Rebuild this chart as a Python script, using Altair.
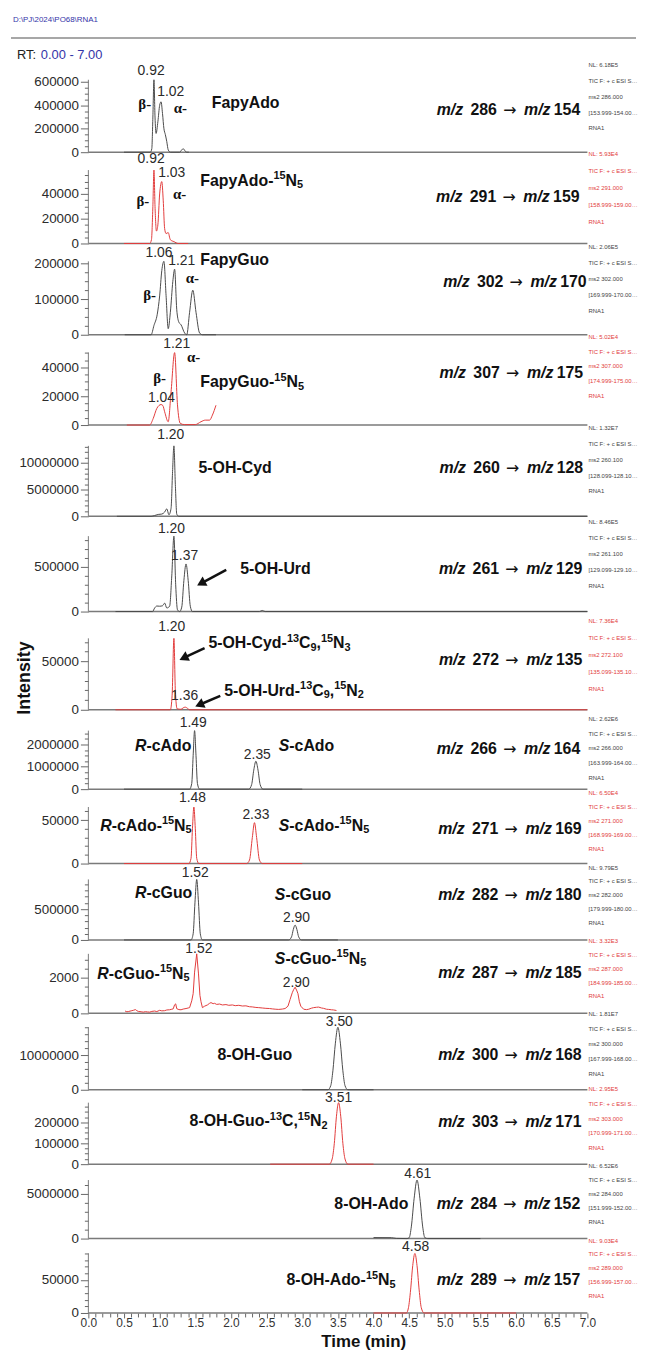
import math
import altair as alt
import pandas as pd

FONT = "Liberation Sans"
SERIF = "Liberation Serif"

# ---------------- data: per-panel metadata ----------------
NL = [618000, 59300, 206000, 50200, 13200000, 846000, 73600,
      2620000, 65000, 979000, 3320, 18100000, 295000, 6520000, 90300]
NL_LABELS = ["6.18E5", "5.93E4", "2.06E5", "5.02E4", "1.32E7", "8.46E5", "7.36E4",
             "2.62E6", "6.50E4", "9.79E5", "3.32E3", "1.81E7", "2.95E5", "6.52E6", "9.03E4"]
IS_RED = [False, True, False, True, False, False, True,
          False, True, False, True, False, True, False, True]
PRECURSOR = ["286", "291", "302", "307", "260", "261", "272", "266",
             "271", "282", "287", "300", "303", "284", "289"]
PRODUCT = ["154", "159", "170", "175", "128", "129", "135", "164",
           "169", "180", "185", "168", "171", "152", "157"]
MS2 = ["286.000", "291.000", "302.000", "307.000", "260.100", "261.100", "272.100", "266.000",
       "271.000", "282.000", "287.000", "300.000", "303.000", "284.000", "289.000"]
WINDOW = ["153.999-154.001", "158.999-159.001", "169.999-170.001", "174.999-175.001",
          "128.099-128.101", "129.099-129.101", "135.099-135.101", "163.999-164.001",
          "168.999-169.001", "179.999-180.001", "184.999-185.001", "167.999-168.001",
          "170.999-171.001", "151.999-152.001", "156.999-157.001"]
Y_MAJOR = [200000, 20000, 100000, 20000, 5000000, 500000, 50000, 1000000,
           50000, 500000, 2000, 10000000, 100000, 5000000, 50000]
Y_MINOR = [50000, 5000, 25000, 5000, 1000000, 100000, 10000, 250000,
           10000, 100000, 500, 2000000, 25000, 1000000, 10000]

# ---------------- data: chromatogram traces (time min, intensity) ----------------
TRACE_FAPYADO = [(0.50, 0), (0.87, 0), (0.89, 30000), (0.905, 300000), (0.92, 618000), (0.935, 300000),
                 (0.95, 160000), (0.975, 260000), (1.00, 400000), (1.02, 430000), (1.04, 330000),
                 (1.06, 200000), (1.08, 150000), (1.10, 90000), (1.12, 20000), (1.15, 0), (1.28, 0),
                 (1.31, 20000), (1.33, 30000), (1.36, 8000), (1.38, 0), (1.41, 0)]
TRACE_FAPYADO_IS = [(0.50, 0), (0.86, 0), (0.885, 3000), (0.905, 30000), (0.92, 59300), (0.935, 30000),
                    (0.955, 10000), (0.975, 15000), (1.00, 40000), (1.03, 50000), (1.05, 35000),
                    (1.07, 12000), (1.09, 8000), (1.12, 8800), (1.15, 3000), (1.20, 1500), (1.26, 0),
                    (1.40, 0)]
TRACE_FAPYGUO = [(0.51, 0), (0.88, 0), (0.92, 26000), (0.965, 56000), (1.00, 109000), (1.03, 180000),
                 (1.06, 206000), (1.09, 110000), (1.12, 17000), (1.15, 63000), (1.185, 150000),
                 (1.21, 184000), (1.24, 70000), (1.27, 35000), (1.30, 28000), (1.35, 5000), (1.38, 0),
                 (1.42, 63000), (1.465, 125000), (1.51, 63000), (1.56, 5000), (1.60, 0), (1.79, 0)]
TRACE_FAPYGUO_IS = [(0.54, 0), (0.86, 0), (0.91, 4600), (0.96, 11500), (1.02, 14200), (1.045, 13500),
                    (1.07, 9200), (1.12, 2300), (1.16, 23000), (1.21, 50200), (1.25, 14000),
                    (1.29, 1100), (1.35, 300), (1.50, 300), (1.58, 2300), (1.64, 3400), (1.70, 3400),
                    (1.74, 6900), (1.79, 13700)]
TRACE_5OHCYD = [(0.40, 0), (0.88, 0), (0.93, 150000), (0.98, 350000), (1.03, 420000), (1.07, 800000),
                (1.10, 1400000), (1.13, 300000), (1.16, 1500000), (1.18, 8000000), (1.20, 13200000),
                (1.22, 6000000), (1.24, 400000), (1.27, 0), (7.00, 0)]
TRACE_5OHURD = [(0.38, 0), (0.90, 0), (0.93, 40000), (0.96, 62000), (1.00, 60000), (1.04, 65000),
                (1.07, 95000), (1.10, 40000), (1.14, 60000), (1.17, 400000), (1.20, 846000),
                (1.225, 300000), (1.25, 20000), (1.28, 0), (1.31, 50000), (1.34, 350000),
                (1.37, 534000), (1.40, 350000), (1.43, 60000), (1.46, 0), (2.40, 0), (2.44, 12000),
                (2.48, 0), (7.00, 0)]
TRACE_5OHCYD_IS = [(0.38, 0), (1.15, 0), (1.175, 15000), (1.20, 73600), (1.22, 20000), (1.245, 1000),
                   (1.30, 500), (1.33, 2000), (1.36, 2700), (1.39, 1500), (1.42, 0), (7.00, 0)]
TRACE_CADO = [(0.50, 0), (1.42, 0), (1.45, 250000), (1.47, 1500000), (1.49, 2620000), (1.51, 1500000),
              (1.53, 250000), (1.56, 0), (2.25, 0), (2.29, 200000), (2.32, 850000), (2.35, 1250000),
              (2.38, 850000), (2.41, 200000), (2.45, 0), (3.00, 0)]
TRACE_CADO_IS = [(0.50, 0), (1.41, 0), (1.44, 6000), (1.46, 40000), (1.48, 65000), (1.50, 40000),
                 (1.52, 6000), (1.55, 0), (2.22, 0), (2.26, 4000), (2.30, 30000), (2.33, 47000),
                 (2.36, 30000), (2.40, 4000), (2.44, 0), (3.00, 0)]
TRACE_CGUO = [(0.50, 0), (1.44, 0), (1.47, 100000), (1.495, 600000), (1.52, 979000), (1.545, 600000),
              (1.57, 100000), (1.60, 0), (2.81, 0), (2.85, 50000), (2.875, 170000), (2.90, 240000),
              (2.925, 170000), (2.95, 50000), (2.99, 0), (3.50, 0)]
TRACE_CGUO_IS = [(0.515, 130), (0.54, 90), (0.56, 100), (0.60, 140), (0.63, 170), (0.66, 210),
                 (0.68, 150), (0.70, 110), (0.74, 90), (0.77, 70), (0.80, 95), (0.83, 80), (0.86, 70),
                 (0.89, 110), (0.93, 130), (0.96, 100), (1.00, 170), (1.03, 140), (1.07, 150),
                 (1.10, 190), (1.14, 200), (1.17, 230), (1.19, 250), (1.21, 480), (1.225, 530),
                 (1.24, 260), (1.27, 210), (1.30, 200), (1.33, 240), (1.37, 270), (1.40, 300),
                 (1.42, 320), (1.45, 700), (1.47, 1100), (1.49, 2300), (1.52, 3320), (1.545, 2200),
                 (1.565, 1000), (1.58, 650), (1.60, 320), (1.63, 400), (1.67, 470), (1.70, 560),
                 (1.72, 600), (1.75, 540), (1.77, 560), (1.80, 500), (1.84, 520), (1.88, 470),
                 (1.93, 490), (1.97, 450), (2.02, 470), (2.06, 430), (2.11, 450), (2.16, 410),
                 (2.21, 420), (2.26, 370), (2.30, 360), (2.35, 330), (2.39, 320), (2.44, 300),
                 (2.49, 280), (2.54, 270), (2.58, 250), (2.63, 230), (2.67, 220), (2.72, 240),
                 (2.76, 270), (2.80, 400), (2.83, 780), (2.86, 1150), (2.88, 1330), (2.90, 1460),
                 (2.92, 1300), (2.94, 1100), (2.96, 650), (2.98, 400), (3.02, 230), (3.06, 210),
                 (3.09, 230), (3.13, 290), (3.16, 320), (3.20, 340), (3.23, 350), (3.27, 300),
                 (3.30, 280), (3.34, 230), (3.37, 220), (3.41, 200), (3.44, 190), (3.48, 160)]
TRACE_8OHGUO = [(3.00, 0), (3.36, 0), (3.40, 1200000), (3.43, 5500000), (3.465, 13500000),
                (3.50, 18100000), (3.535, 13500000), (3.57, 5500000), (3.60, 1200000), (3.64, 0),
                (4.00, 0)]
TRACE_8OHGUO_IS = [(2.55, 0), (3.38, 0), (3.42, 25000), (3.45, 100000), (3.48, 230000), (3.51, 295000),
                   (3.54, 230000), (3.57, 100000), (3.60, 25000), (3.64, 0), (4.00, 0)]
TRACE_8OHADO = [(4.00, 110000), (4.25, 100000), (4.32, 20000), (4.47, 0), (4.50, 100000),
                (4.53, 1300000), (4.57, 4500000), (4.61, 6520000), (4.65, 4500000), (4.69, 1300000),
                (4.72, 100000), (4.76, 0), (5.50, 0)]
TRACE_8OHADO_IS = [(4.00, 0), (4.46, 0), (4.49, 8000), (4.52, 35000), (4.55, 72000), (4.58, 90300),
                   (4.61, 72000), (4.64, 35000), (4.67, 8000), (4.71, 0), (6.00, 0)]
TRACES = [TRACE_FAPYADO, TRACE_FAPYADO_IS, TRACE_FAPYGUO, TRACE_FAPYGUO_IS, TRACE_5OHCYD,
          TRACE_5OHURD, TRACE_5OHCYD_IS, TRACE_CADO, TRACE_CADO_IS, TRACE_CGUO, TRACE_CGUO_IS,
          TRACE_8OHGUO, TRACE_8OHGUO_IS, TRACE_8OHADO, TRACE_8OHADO_IS]

# ---------------- data: annotations (panel, time, intensity, text) ----------------
PEAK_LABELS = [(1, 0.88, 694000, "0.92"), (1, 1.155, 516000, "1.02"),
               (2, 0.88, 68100, "0.92"), (2, 1.17, 56900, "1.03"),
               (3, 0.99, 228000, "1.06"), (3, 1.31, 206000, "1.21"),
               (4, 1.24, 56400, "1.21"), (4, 1.025, 18600, "1.04"),
               (5, 1.155, 15200000, "1.20"),
               (6, 1.165, 924000, "1.20"), (6, 1.35, 623000, "1.37"),
               (7, 1.17, 84800, "1.20"), (7, 1.35, 14300, "1.36"),
               (8, 1.47, 2980000, "1.49"), (8, 2.37, 1510000, "2.35"),
               (9, 1.46, 75200, "1.48"), (9, 2.35, 55900, "2.33"),
               (10, 1.50, 1075000, "1.52"), (10, 2.92, 353000, "2.90"),
               (11, 1.55, 3595, "1.52"), (11, 2.915, 1714, "2.90"),
               (12, 3.52, 19500000, "3.50"),
               (13, 3.51, 319000, "3.51"),
               (14, 4.62, 7180000, "4.61"),
               (15, 4.59, 100800, "4.58")]
ANOMER_LABELS = [(1, 0.79, 415000, "β-"), (1, 1.29, 381000, "α-"),
                 (2, 0.765, 34400, "β-"), (2, 1.28, 40000, "α-"),
                 (3, 0.86, 111000, "β-"), (3, 1.46, 159000, "α-"),
                 (4, 1.00, 32300, "β-"), (4, 1.475, 46800, "α-")]
# (panel, left time, intensity, italic prefix, text)
COMPOUND_LABELS = [(1, 1.73, 423000, "", "FapyAdo"), (2, 1.57, 50500, "", "FapyAdo-¹⁵N₅"),
                   (3, 1.57, 209000, "", "FapyGuo"), (4, 1.57, 29600, "", "FapyGuo-¹⁵N₅"),
                   (5, 1.545, 9110000, "", "5-OH-Cyd"), (6, 2.13, 479000, "", "5-OH-Urd"),
                   (7, 1.684, 68500, "", "5-OH-Cyd-¹³C₉,¹⁵N₃"),
                   (7, 1.906, 19400, "", "5-OH-Urd-¹³C₉,¹⁵N₂"),
                   (8, 0.654, 1950000, "R", "-cAdo"), (8, 2.67, 1950000, "S", "-cAdo"),
                   (9, 0.167, 43300, "R", "-cAdo-¹⁵N₅"), (9, 2.67, 43300, "S", "-cAdo-¹⁵N₅"),
                   (10, 0.654, 754000, "R", "-cGuo"), (10, 2.616, 722000, "S", "-cGuo"),
                   (11, 0.125, 2212, "R", "-cGuo-¹⁵N₅"), (11, 2.616, 3042, "S", "-cGuo-¹⁵N₅"),
                   (12, 1.81, 10060000, "", "8-OH-Guo"), (13, 1.42, 205000, "", "8-OH-Guo-¹³C,¹⁵N₂"),
                   (14, 3.45, 3870000, "", "8-OH-Ado"), (15, 2.78, 49700, "", "8-OH-Ado-¹⁵N₅")]
MZ_ANCHOR = [(6.90, 364000), (6.89, 37600), (6.99, 148000), (6.94, 35800), (6.94, 9110000),
             (6.93, 479000), (6.93, 51100), (6.90, 1780000), (6.92, 39900), (6.92, 722000),
             (6.92, 2267), (6.92, 10060000), (6.92, 200000), (6.90, 3870000), (6.90, 49700)]
ARROWS = [(6, 1.934, 467500, 1.517, 289400),
          (7, 1.63, 63400, 1.27, 51100),
          (7, 1.85, 14300, 1.49, 3070)]
X_TICKS = [round(i * 0.1, 1) for i in range(71)]

# ---------------- layout (pixels) ----------------
SHIFT = -2  # whole figure nudged up so the x-axis title still fits on the page
PLOT_W = 503
PX_PER_MIN = PLOT_W / 7.0
BASE_PX = [b + SHIFT for b in [150, 242, 334, 425, 517, 613, 712, 792, 867, 944, 1018, 1095, 1170, 1245, 1320]]
TOP_PX = [b + SHIFT for b in [77, 168, 260, 352, 446, 537, 640, 733, 810, 883, 958, 1032, 1108, 1186, 1260]]
INFO_Y = [b + SHIFT for b in [62, 152, 246, 336, 428, 523, 623, 721, 796, 871, 945, 1019, 1094, 1172, 1247]]
INFO_STEP = [16, 17, 16, 15, 16, 16, 17, 15, 14, 14, 14, 15, 15, 14, 14]
PAGE_TOP = 8
PANEL_H = [BASE_PX[0] - PAGE_TOP] + [BASE_PX[i] - BASE_PX[i - 1] for i in range(1, 15)]
HEAD_Y = [17 + SHIFT - PAGE_TOP, 35 + SHIFT - PAGE_TOP, 52 + SHIFT - PAGE_TOP]
INTENSITY_Y = 680 + SHIFT

RED = "#e23c3c"
DARK_LINE = "#4a4a4a"
AXIS_GREY = "#7a7a7a"
INFO_DARK = "#444444"
BLUE = "#3434a8"

NAME_SIZE = 16
SCRIPT_SIZE = 11
SUPS = {"⁰": "0", "¹": "1", "²": "2", "³": "3", "⁴": "4", "⁵": "5", "⁶": "6", "⁷": "7", "⁸": "8", "⁹": "9"}
SUBS = {"₀": "0", "₁": "1", "₂": "2", "₃": "3", "₄": "4", "₅": "5", "₆": "6", "₇": "7", "₈": "8", "₉": "9"}
# advance widths of Arial/Liberation Sans Bold, in em
EM_BOLD = {"A": .722, "C": .722, "F": .611, "G": .778, "H": .722, "N": .722, "O": .778, "R": .722,
           "S": .667, "U": .722, "a": .556, "c": .556, "d": .611, "o": .611, "p": .611, "r": .389,
           "u": .611, "y": .556, "-": .333, ",": .278, " ": .278}


def em_width(s):
    return sum(EM_BOLD.get(c, .556) for c in s)


def label_runs(prefix, text):
    runs = [("it", prefix)] if prefix else []
    for ch in text:
        if ch in SUPS:
            kind, c = "sup", SUPS[ch]
        elif ch in SUBS:
            kind, c = "sub", SUBS[ch]
        else:
            kind, c = "n", ch
        if runs and runs[-1][0] == kind:
            runs[-1] = (kind, runs[-1][1] + c)
        else:
            runs.append((kind, c))
    return runs


XTEST = "abs(datum.value * 2 - round(datum.value * 2)) < 0.001"
X_AXIS = alt.Axis(values=X_TICKS, labelExpr=f"{XTEST} ? format(datum.value, '.1f') : ''",
                  tickSize={"condition": {"test": XTEST, "value": 5}, "value": 4},
                  domain=False, grid=False, title="Time (min)", titleX=277, titleY=29,
                  titleBaseline="middle", titleAlign="center", titleFont=FONT, titleFontSize=17,
                  titleFontWeight="bold", titleColor="#111111", labelFont=FONT, labelFontSize=12,
                  labelColor="#333333", tickColor="#666666", labelPadding=0, labelOverlap=False,
                  labelFlush=False, labelBound=False)


def pick(rows, k):
    return [r[1:] for r in rows if r[0] == k + 1]


def build_panel(k):
    H = PANEL_H[k]
    h = BASE_PX[k] - TOP_PX[k]
    vpp = NL[k] / h
    dom = NL[k] * H / h
    color = RED if IS_RED[k] else DARK_LINE
    info_color = RED if IS_RED[k] else INFO_DARK
    xs = alt.Scale(domain=[0, 7], nice=False, zero=False)
    ys = alt.Scale(domain=[0, dom], nice=False, zero=False)
    major, minor = Y_MAJOR[k], Y_MINOR[k]
    yvals = [i * minor for i in range(int(NL[k] // minor) + 1)]
    test = f"datum.value % {major} === 0"
    y_axis = alt.Axis(values=yvals, format="d", labelExpr=f"{test} ? datum.label : ''",
                      tickSize={"condition": {"test": test, "value": 8}, "value": 4},
                      domain=False, grid=False, title=None, labelFont=FONT, labelFontSize=13.5,
                      labelColor="#2b2b2b", tickColor="#666666", tickWidth=1, labelPadding=2,
                      labelOverlap=False, labelBound=False, labelFlush=False)
    x_axis = X_AXIS if k == 14 else None

    def X(f):
        return alt.X(f, type="quantitative", scale=xs, axis=x_axis)

    def Y(f):
        return alt.Y(f, type="quantitative", scale=ys, axis=y_axis)

    layers = []
    base_df = pd.DataFrame({"t": [0.0], "t2": [7.0], "v": [0.0]})
    layers.append(alt.Chart(base_df).mark_rule(color=AXIS_GREY, strokeWidth=1.5).encode(
        x=X("t"), x2="t2:Q", y=Y("v")))
    spine_df = pd.DataFrame({"t": [0.0], "v": [0.0], "v2": [float(NL[k])]})
    layers.append(alt.Chart(spine_df).mark_rule(color=AXIS_GREY, strokeWidth=1).encode(
        x=X("t"), y=Y("v"), y2="v2:Q"))
    tr = pd.DataFrame(TRACES[k], columns=["t", "v"])
    interp = "linear" if k == 10 else "monotone"
    layers.append(alt.Chart(tr).mark_line(color=color, strokeWidth=1, interpolate=interp).encode(
        x=X("t"), y=Y("v")))

    rows = pick(PEAK_LABELS, k)
    if rows:
        df = pd.DataFrame(rows, columns=["t", "v", "text"])
        layers.append(alt.Chart(df).mark_text(font=FONT, fontSize=14, color="#2a2a2a").encode(
            x=X("t"), y=Y("v"), text="text:N"))
    rows = pick(ANOMER_LABELS, k)
    if rows:
        df = pd.DataFrame(rows, columns=["t", "v", "text"])
        layers.append(alt.Chart(df).mark_text(font=SERIF, fontSize=15, fontWeight="bold",
                                              color="#111111").encode(
            x=X("t"), y=Y("v"), text="text:N"))

    # compound names: upright, italic, superscript and subscript runs laid side by side
    run_rows = []
    for (t0, v0, prefix, text) in pick(COMPOUND_LABELS, k):
        off = 0.0
        for kind, s in label_runs(prefix, text):
            run_rows.append({"t": t0 + off / PX_PER_MIN, "v": v0, "text": s, "kind": kind})
            size = SCRIPT_SIZE if kind in ("sup", "sub") else NAME_SIZE
            off += em_width(s) * size
    if run_rows:
        rdf = pd.DataFrame(run_rows)
        styles = {"n": dict(fontSize=NAME_SIZE, fontStyle="normal", dy=0),
                  "it": dict(fontSize=NAME_SIZE, fontStyle="italic", dy=0),
                  "sup": dict(fontSize=SCRIPT_SIZE, fontStyle="normal", dy=-4.5),
                  "sub": dict(fontSize=SCRIPT_SIZE, fontStyle="normal", dy=4.5)}
        for kind, st in styles.items():
            sub = rdf[rdf["kind"] == kind]
            if len(sub) == 0:
                continue
            layers.append(alt.Chart(sub).mark_text(font=FONT, fontWeight="bold", align="left",
                                                   color="#111111", **st).encode(
                x=X("t"), y=Y("v"), text="text:N"))

    # m/z transition label, assembled from italic and upright pieces
    t_mz, v_mz = MZ_ANCHOR[k]
    mz = pd.DataFrame({"t": [t_mz], "v": [v_mz], "pre": [PRECURSOR[k]], "pro": [PRODUCT[k]],
                       "mz": ["m/z"], "arrow": ["→"]})
    pieces = [("mz", -118, "right", "italic", FONT, "bold"),
              ("pre", -84, "right", "normal", FONT, "bold"),
              ("arrow", -71, "center", "normal", "DejaVu Sans", "normal"),
              ("mz", -30, "right", "italic", FONT, "bold"),
              ("pro", 0, "right", "normal", FONT, "bold")]
    for field, dx, al, style, fnt, wt in pieces:
        layers.append(alt.Chart(mz).mark_text(font=fnt, fontSize=16, fontWeight=wt,
                                              fontStyle=style, align=al, dx=dx,
                                              color="#111111").encode(
            x=X("t"), y=Y("v"), text=f"{field}:N"))

    # instrument info block on the right (cut at the page edge as in the original)
    info_text = [f"NL: {NL_LABELS[k]}", "TIC F: + c ESI SRM", f"ms2 {MS2[k]}",
                 f"[{WINDOW[k]}] MS", "RNA1"]
    info_v = [(BASE_PX[k] - (INFO_Y[k] + i * INFO_STEP[k])) * vpp for i in range(5)]
    info = pd.DataFrame({"v": info_v, "text": info_text})
    layers.append(alt.Chart(info).mark_text(font=FONT, fontSize=6, align="left", limit=50,
                                            ellipsis="", color=info_color).encode(
        x=alt.value(PLOT_W + 1), y=Y("v"), text="text:N"))

    # arrows
    for (p, t1, v1, t2, v2) in ARROWS:
        if p != k + 1:
            continue
        dxp = (t2 - t1) * PX_PER_MIN
        dyp = -(v2 - v1) / vpp
        L = math.hypot(dxp, dyp)
        ux, uy = dxp / L, dyp / L
        ang = (math.degrees(math.atan2(ux, -uy)) + 360) % 360
        size = 110
        back = math.sqrt(size) / 2
        tc = t2 - back * ux / PX_PER_MIN
        vc = v2 + back * uy * vpp
        ln = pd.DataFrame({"t": [t1, tc], "v": [v1, vc]})
        layers.append(alt.Chart(ln).mark_line(color="#111111", strokeWidth=2.5).encode(
            x=X("t"), y=Y("v")))
        hd = pd.DataFrame({"t": [tc], "v": [vc]})
        layers.append(alt.Chart(hd).mark_point(shape="triangle-up", filled=True, size=size,
                                               angle=ang, color="#111111", opacity=1).encode(
            x=X("t"), y=Y("v")))

    if k == 0:
        layers.append(alt.Chart(pd.DataFrame({"text": ["D:\\PJ\\2024\\PO68\\RNA1"]})).mark_text(
            font=FONT, fontSize=8, align="left", color=BLUE).encode(
            x=alt.value(-76), y=alt.value(HEAD_Y[0]), text="text:N"))
        layers.append(alt.Chart(pd.DataFrame({"a": [0]})).mark_rule(
            color="#8a8a8a", strokeWidth=1.5).encode(
            x=alt.value(-78), x2=alt.value(552), y=alt.value(HEAD_Y[1])))
        layers.append(alt.Chart(pd.DataFrame({"text": ["RT:"]})).mark_text(
            font=FONT, fontSize=13, align="left", color="#222222").encode(
            x=alt.value(-72), y=alt.value(HEAD_Y[2]), text="text:N"))
        layers.append(alt.Chart(pd.DataFrame({"text": ["0.00 - 7.00"]})).mark_text(
            font=FONT, fontSize=13, align="left", color=BLUE).encode(
            x=alt.value(-48), y=alt.value(HEAD_Y[2]), text="text:N"))
    if k == 6:
        iv = (BASE_PX[k] - INTENSITY_Y) * vpp
        layers.append(alt.Chart(pd.DataFrame({"v": [iv], "text": ["Intensity"]})).mark_text(
            font=FONT, fontSize=18, fontWeight="bold", angle=270, color="#111111").encode(
            x=alt.value(-64), y=Y("v"), text="text:N"))

    return alt.layer(*layers).properties(width=PLOT_W, height=H)


panels = [build_panel(k) for k in range(15)]
chart = alt.vconcat(*panels, spacing=0, bounds="flush").properties(
    padding={"left": 2, "top": 0, "right": 0, "bottom": 0}
).configure_view(stroke=None)

chart.save("out.html", embed_options={"renderer": "svg", "actions": False})
